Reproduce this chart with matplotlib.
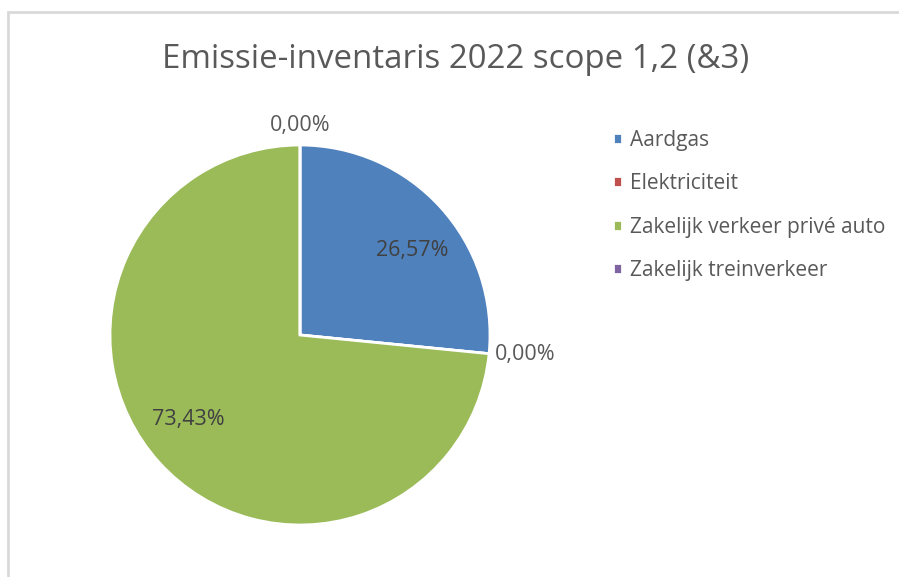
import numpy as np
import matplotlib.pyplot as plt
from matplotlib.patches import Rectangle

# data
categories = ["Aardgas", "Elektriciteit", "Zakelijk verkeer privé auto", "Zakelijk treinverkeer"]
shares = [26.57, 0.00, 73.43, 0.00]
colors = ["#4F81BD", "#C0504D", "#9BBB59", "#8064A2"]
title = "Emissie-inventaris 2022 scope 1,2 (&3)"

plt.rcParams['font.family'] = ['Open Sans', 'DejaVu Sans']

W, H = 899, 577
fig = plt.figure(figsize=(W / 100, H / 100), dpi=100)

# chart border (light grey, runs off right/bottom)
fig.add_artist(Rectangle((8 / W, -0.1), 1.2, 1 - 12 / H + 0.1, transform=fig.transFigure,
                         fill=False, edgecolor="#D9D9D9", linewidth=2))

fig.text(456 / W, 1 - 59 / H, title, ha="center", va="center", fontsize=23.8, color="#595959")

# pie axes: center (300, 335), radius 190 px
cx, cy, r = 300, 335, 190
ax = fig.add_axes([(cx - r) / W, (H - cy - r) / H, 2 * r / W, 2 * r / H])
wedges, _ = ax.pie(shares, colors=colors, startangle=90, counterclock=False,
                   wedgeprops=dict(edgecolor="white", linewidth=2))
ax.set_xlim(-1, 1)
ax.set_ylim(-1, 1)

for w, v in zip(wedges, shares):
    lab = f"{v:.2f}%".replace(".", ",")
    ang = np.deg2rad((w.theta1 + w.theta2) / 2)
    if v > 0:
        # excel puts inner labels a little clockwise of the middle
        a = ang - np.deg2rad(5)
        ax.text(0.74 * np.cos(a), 0.74 * np.sin(a), lab, ha="center", va="center",
                fontsize=15.5, color="#404040")
    else:
        x, y = np.cos(ang), np.sin(ang)
        if abs(x) < 0.3:
            ax.text(1.045 * x, 1.045 * y, lab, ha="center", va="bottom", fontsize=15.5, color="#595959")
        else:
            ax.text(1.03 * x, 1.03 * y, lab, ha="left" if x > 0 else "right", va="center",
                    fontsize=15.5, color="#595959")

fig.legend(wedges, categories, loc="upper left", bbox_to_anchor=(594 / W, 1 - 111 / H),
           frameon=False, fontsize=15, labelcolor="#595959", handlelength=0.45,
           handleheight=0.45, handletextpad=0.4, labelspacing=1.08)

fig.savefig("out.png", dpi=100)
